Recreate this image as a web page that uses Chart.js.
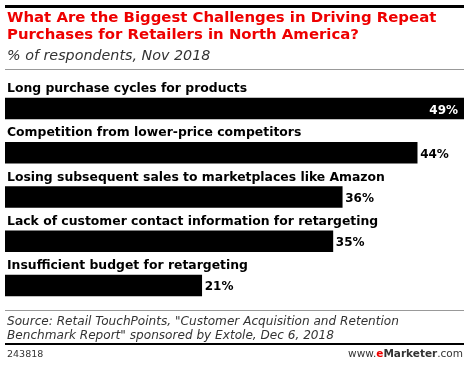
<!DOCTYPE html>
<html>
<head>
<meta charset="utf-8">
<script src="https://cdn.jsdelivr.net/npm/chart.js@4/dist/chart.umd.min.js"></script>
<style>
  html, body { margin:0; padding:0; background:#fff; }
  body { width:470px; height:365px; position:relative; overflow:hidden; font-family:"DejaVu Sans", sans-serif; }
  #c { position:absolute; left:0; top:0; }
  .abs { position:absolute; white-space:nowrap; }
  #topline { left:5px; top:5px; width:459px; height:3px; background:#000; }
  #title { left:7px; top:9px; color:#ee0000; font-weight:bold; font-size:14.9px; line-height:17px; }
  #sub { left:7px; top:47px; color:#333; font-style:italic; font-size:14.3px; line-height:17px; }
  #grayline1 { left:5px; top:69px; width:459px; height:1px; background:#999; }
  #grayline2 { left:5px; top:310px; width:459px; height:1px; background:#999; }
  #source { left:7px; top:314px; color:#333; font-style:italic; font-size:12.1px; line-height:14px; }
  #blackline { left:5px; top:343px; width:459px; height:2px; background:#000; }
  #id { left:7px; top:348px; color:#333; font-size:9.5px; }
  #logo { right:7px; top:347px; color:#333; font-size:10.5px; }
  #logo b.e { color:#ee0000; }
</style>
</head>
<body>
<canvas id="c" width="470" height="365"></canvas>
<div class="abs" id="topline"></div>
<div class="abs" id="title">What Are the Biggest Challenges in Driving Repeat<br>Purchases for Retailers in North America?</div>
<div class="abs" id="sub">% of respondents, Nov 2018</div>
<div class="abs" id="grayline1"></div>
<div class="abs" id="grayline2"></div>
<div class="abs" id="source">Source: Retail TouchPoints, "Customer Acquisition and Retention<br>Benchmark Report" sponsored by Extole, Dec 6, 2018</div>
<div class="abs" id="blackline"></div>
<div class="abs" id="id">243818</div>
<div class="abs" id="logo">www.<b class="e">e</b><b>Marketer</b>.com</div>
<script>
const categories = [
  "Long purchase cycles for products",
  "Competition from lower-price competitors",
  "Losing subsequent sales to marketplaces like Amazon",
  "Lack of customer contact information for retargeting",
  "Insufficient budget for retargeting"
];
const values = [49, 44, 36, 35, 21];

const labelPlugin = {
  id: 'labels',
  afterDatasetsDraw(chart) {
    const ctx = chart.ctx;
    const meta = chart.getDatasetMeta(0);
    ctx.save();
    ctx.textBaseline = 'alphabetic';
    meta.data.forEach((bar, i) => {
      const top = bar.y - bar.height / 2;
      ctx.font = 'bold 12.4px "DejaVu Sans"';
      ctx.fillStyle = '#000';
      ctx.textAlign = 'left';
      ctx.fillText(categories[i], chart.chartArea.left + 2, top - 6);
      const txt = values[i] + '%';
      ctx.font = 'bold 12px "DejaVu Sans"';
      const w = ctx.measureText(txt).width;
      if (bar.x + w + 6 > chart.width) {
        ctx.fillStyle = '#fff';
        ctx.textAlign = 'right';
        ctx.fillText(txt, bar.x - 6, bar.y + 5);
      } else {
        ctx.fillStyle = '#000';
        ctx.textAlign = 'left';
        ctx.fillText(txt, bar.x + 3, bar.y + 5);
      }
    });
    ctx.restore();
  }
};

new Chart(document.getElementById('c'), {
  type: 'bar',
  data: {
    labels: categories,
    datasets: [{ data: values, backgroundColor: '#000', borderWidth: 0, barThickness: 21 }]
  },
  options: {
    indexAxis: 'y',
    responsive: false,
    animation: false,
    layout: { padding: { left: 5, right: 6, top: 86.4, bottom: 57.4 } },
    scales: {
      x: { display: false, min: 0, max: 49 },
      y: { display: false }
    },
    plugins: { legend: { display: false }, tooltip: { enabled: false } }
  },
  plugins: [labelPlugin]
});
</script>
</body>
</html>
